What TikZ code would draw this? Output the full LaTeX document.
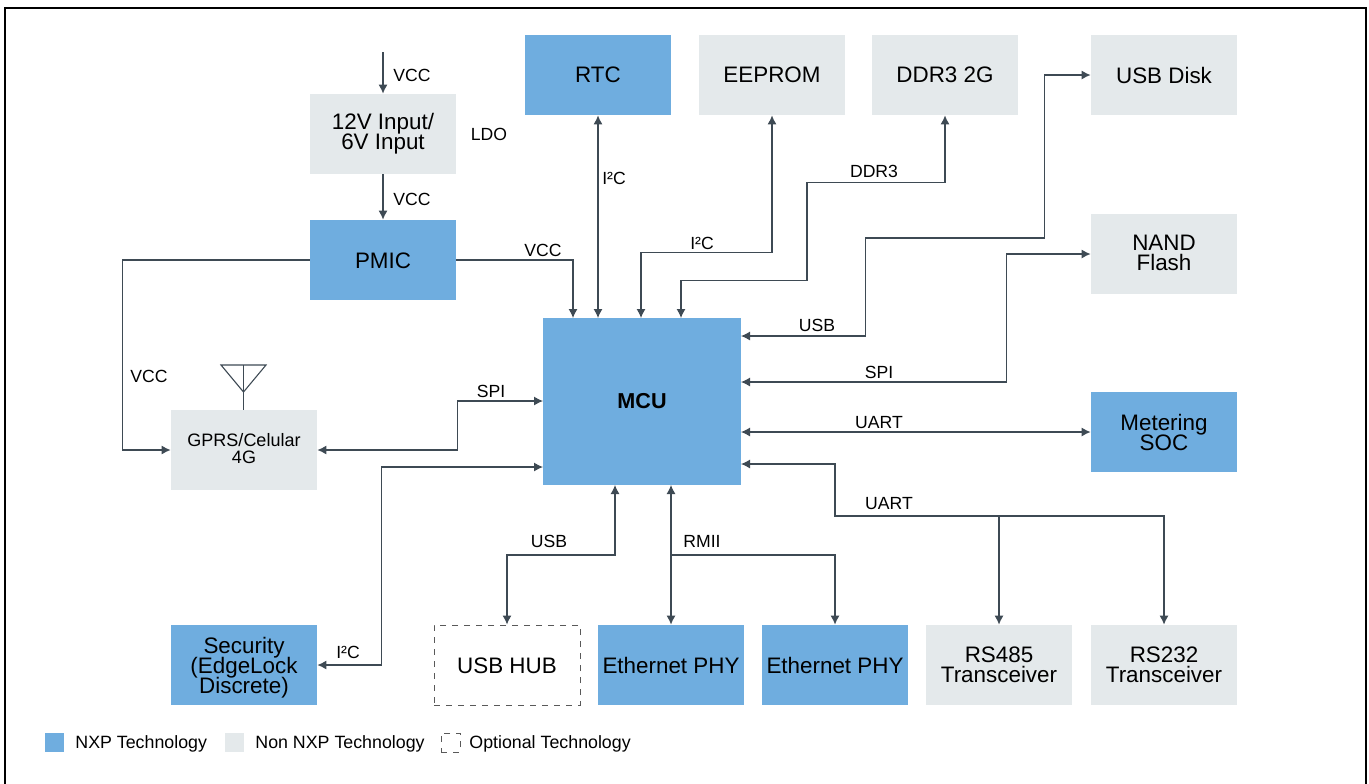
\documentclass[tikz,border=0pt]{standalone}
\usepackage{fontspec}
\setmainfont{Liberation Sans}
\usetikzlibrary{arrows.meta}
\definecolor{nxpblue}{HTML}{6FADDF}
\definecolor{nonnxp}{HTML}{E4E9EB}
\definecolor{wirecol}{HTML}{3E4A54}
\lineskiplimit=-20pt

\begin{document}
\begin{tikzpicture}[x=0.5pt,y=-0.5pt,
		box/.style={minimum width=73pt,minimum height=40pt,inner sep=0pt,align=center,font=\fontsize{11.2}{10}\selectfont},
		nxp/.style={box,fill=nxpblue},
		other/.style={box,fill=nonnxp},
		optional/.style={box,draw=black!65,dashed,line width=0.5pt},
		lbl/.style={inner sep=0pt,yshift=-0.25pt,font=\fontsize{8.8}{10}\selectfont},
		legendtxt/.style={inner sep=0pt,anchor=west,yshift=-0.5pt,font=\fontsize{8.9}{10}\selectfont},
		legendbox/.style={minimum size=9.5pt,inner sep=0pt},
		wire/.style={draw=wirecol,line width=0.55pt},
		one/.style={wire,-{Latex[length=4.5pt,width=4.5pt]}},
		back/.style={wire,{Latex[length=4.5pt,width=4.5pt]}-},
		both/.style={wire,{Latex[length=4.5pt,width=4.5pt]}-{Latex[length=4.5pt,width=4.5pt]}}]
		\useasboundingbox (0,0) rectangle (1369,783);
		\draw[line width=1.2pt] (5,790) -- (5,8) -- (1366,8) -- (1366,790);

		\node[nxp] (rtc) at (598,75) {RTC};
		\node[other] (eeprom) at (772,75) {EEPROM};
		\node[other] (ddr) at (945,75) {DDR3 2G};
		\node[other] (usbdisk) at (1164,75) {USB Disk};
		\node[other] (input) at (383,134) {12V Input/\\6V Input};
		\node[nxp,text height=9pt] (pmic) at (383,260) {PMIC};
		\node[other,text depth=1pt] (nand) at (1164,254) {NAND\\Flash};
		\node[nxp,minimum width=99pt,minimum height=83.5pt,font=\fontsize{10.8}{12}\selectfont\bfseries] (mcu) at (642,401.5) {MCU};
		\node[other,text depth=2pt,font=\fontsize{9}{8.5}\selectfont] (gprs) at (244,450) {GPRS/Celular\\4G};
		\node[nxp] (metering) at (1164,432) {Metering\\SOC};
		\node[nxp,text depth=0pt] (security) at (244,665) {Security\\(EdgeLock\\Discrete)};
		\node[optional,text height=9pt] (hub) at (507,665) {USB HUB};
		\node[nxp,text height=9pt] (ethA) at (671,665) {Ethernet PHY};
		\node[nxp,text height=9pt] (ethB) at (835,665) {Ethernet PHY};
		\node[other] (rsA) at (999,665) {RS485\\Transceiver};
		\node[other] (rsB) at (1164,665) {RS232\\Transceiver};

		\coordinate (vccin) at (383,52);
		\coordinate (mcuvcc) at (573,318);
		\coordinate (mcurtc) at (598,318);
		\coordinate (mcueeprom) at (641,318);
		\coordinate (mcuddr) at (681,318);
		\coordinate (mcudisk) at (741,336);
		\coordinate (mcunand) at (741,382);
		\coordinate (mcusoc) at (741,432);
		\coordinate (mcurs) at (741,464);
		\coordinate (mcuspi) at (543,401);
		\coordinate (mcusec) at (543,467);
		\coordinate (mcuhub) at (615,485);
		\coordinate (mcueth) at (671,485);
		\coordinate (rsjoin) at (999,516);
		\coordinate (ethjoin) at (671,555);

		\draw[one] (vccin) -- (input.north);
		\draw[one] (input.south) -- (pmic.north);
		\draw[one] (pmic.east) -| (mcuvcc);
		\draw[one] (pmic.west) -- ++(-187,0) |- (gprs.west);
		\draw[both] (rtc.south) -- (mcurtc);
		\draw[both] (eeprom.south) -- ++(0,137) -| (mcueeprom);
		\draw[both] (ddr.south) -- ++(0,67) -- ++(-138,0) -- ++(0,98) -| (mcuddr);
		\draw[both] (usbdisk.west) -- ++(-46,0) -- ++(0,163) -- ++(-179,0) |- (mcudisk);
		\draw[both] (nand.west) -- ++(-84,0) |- (mcunand);
		\draw[both] (mcusoc) -- (metering.west);
		\draw[back] (mcurs) -- ++(94,0) |- (rsjoin);
		\draw[one] (rsjoin) -- (rsA.north);
		\draw[one] (rsjoin) -| (rsB.north);
		\draw[both] (gprs.east) -- ++(140,0) |- (mcuspi);
		\draw[both] (security.east) -- ++(64,0) |- (mcusec);
		\draw[both] (mcuhub) |- (ethjoin -| hub.north) -- (hub.north);
		\draw[both] (mcueth) -- (ethA.north);
		\draw[one] (ethjoin) -| (ethB.north);

		\draw[wire] (221,365) -- (266,365) -- (243.5,392) -- cycle;
		\draw[wire] (243.5,365) -- (gprs.north -| 243.5,0);

		\node[lbl] (vccA) at (412,75) {VCC};
		\node[lbl] (vccB) at (412,199) {VCC};
		\node[lbl] (ldo) at (489,134) {LDO};
		\node[lbl] (vccC) at (543,250) {VCC};
		\node[lbl] (vccD) at (149,376) {VCC};
		\node[lbl] (i2cA) at (614,178) {I²C};
		\node[lbl] (i2cB) at (702,243) {I²C};
		\node[lbl] (i2cC) at (348,652) {I²C};
		\node[lbl] (ddrbus) at (874,171) {DDR3};
		\node[lbl] (usbA) at (817,325) {USB};
		\node[lbl] (spiA) at (879,372) {SPI};
		\node[lbl] (uartA) at (879,422) {UART};
		\node[lbl] (uartB) at (889,503) {UART};
		\node[lbl] (spiB) at (491,391) {SPI};
		\node[lbl] (usbB) at (549,541) {USB};
		\node[lbl] (rmii) at (702,541) {RMII};

		\node[legendbox,fill=nxpblue] (keynxp) at (54.5,742.5) {};
		\node[legendtxt] (keynxptxt) at (75,742.5) {NXP Technology};
		\node[legendbox,fill=nonnxp] (keyother) at (234.5,742.5) {};
		\node[legendtxt] (keyothertxt) at (255,742.5) {Non NXP Technology};
		\node[legendbox,draw=black!65,dashed,line width=0.4pt] (keyopt) at (450.5,742.5) {};
		\node[legendtxt] (keyopttxt) at (469,742.5) {Optional Technology};
\end{tikzpicture}
\end{document}
